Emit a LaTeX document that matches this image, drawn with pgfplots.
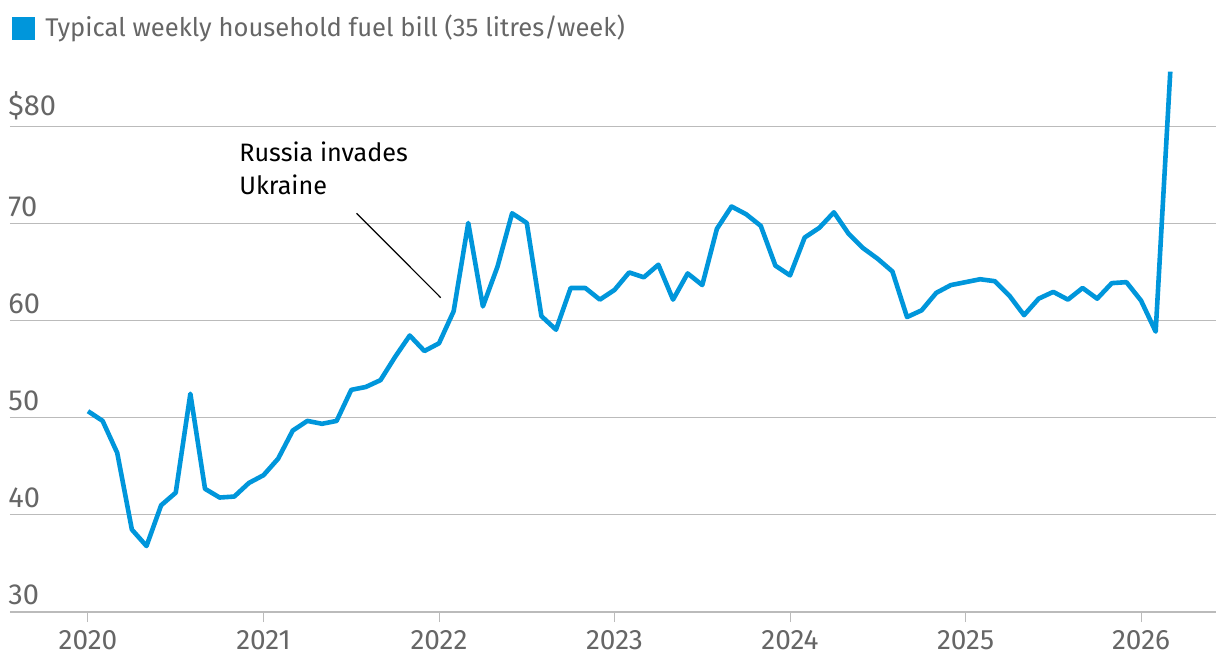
\documentclass[border=0pt]{standalone}
\usepackage{pgfplots}
\pgfplotsset{compat=1.18}
\usepackage{pgfplotstable}
\usepackage{fontspec}
\setmainfont{Fira Sans}
\definecolor{lineblue}{HTML}{0096DB}
\definecolor{txtgray}{HTML}{666666}
\definecolor{gridgray}{HTML}{BBBBBB}
\pgfplotstableread{
m v
0 50.7
1 49.7
2 46.4
3 38.5
4 36.8
5 41.0
6 42.3
7 52.5
8 42.7
9 41.8
10 41.9
11 43.3
12 44.1
13 45.8
14 48.7
15 49.7
16 49.4
17 49.7
18 52.9
19 53.2
20 53.9
21 56.3
22 58.5
23 56.9
24 57.7
25 61.0
26 70.1
27 61.5
28 65.6
29 71.1
30 70.1
31 60.5
32 59.1
33 63.4
34 63.4
35 62.2
36 63.2
37 65.0
38 64.5
39 65.8
40 62.2
41 64.9
42 63.7
43 69.5
44 71.8
45 71.0
46 69.8
47 65.7
48 64.7
49 68.6
50 69.6
51 71.2
52 69.0
53 67.5
54 66.4
55 65.1
56 60.4
57 61.1
58 62.9
59 63.7
60 64.0
61 64.3
62 64.1
63 62.6
64 60.6
65 62.3
66 63.0
67 62.2
68 63.4
69 62.3
70 63.9
71 64.0
72 62.1
73 58.9
74 85.7
}\fuel
\begin{document}
\begin{tikzpicture}
\useasboundingbox (0,0) rectangle (610pt,335pt);
\begin{axis}[
  at={(5pt,29pt)}, anchor=south west,
  scale only axis, width=603pt, height=276pt,
  xmin=2019.5556, xmax=2026.427,
  ymin=30, ymax=86.9,
  axis x line=bottom, axis y line=left,
  x axis line style={-, draw=gridgray, line width=0.6pt},
  y axis line style={draw=none},
  xtick={2020,2021,2022,2023,2024,2025,2026},
  xticklabels={2020,2021,2022,2023,2024,2025,2026},
  tick align=outside, major tick length=5pt,
  xtick style={draw=gridgray, line width=0.5pt},
  xticklabel style={text=txtgray, font=\fontsize{14}{16}\selectfont, yshift=-0.5pt},
  ytick={30,40,50,60,70,80},
  yticklabels={30,40,50,60,70,\$80},
  ymajorgrids, grid style={draw=gridgray, line width=0.5pt},
  ytick style={draw=none},
  yticklabel style={anchor=south west, inner sep=0pt, xshift=4pt, yshift=3.5pt, text=txtgray, font=\fontsize{14.5}{16}\selectfont},
  clip=false,
]
\addplot[lineblue, line width=2.3pt, line join=round] table[x expr=2020+\thisrow{m}/12, y=v] {\fuel};
\draw[black, line width=0.6pt] (axis cs:2021.53,71.1) -- (axis cs:2022.01,62.4);
\node[anchor=north west, align=left, inner sep=0pt, font=\fontsize{12.6}{16.5}\selectfont] at (axis cs:2020.86,78.5) {Russia invades\\Ukraine};
\end{axis}
\fill[lineblue] (6pt,326.5pt) rectangle (17.5pt,315pt);
\node[anchor=west, inner sep=0pt, text=txtgray, font=\fontsize{12.8}{15}\selectfont] at (22.5pt,320.75pt) {Typical weekly household fuel bill (35 litres/week)};
\end{tikzpicture}
\end{document}
